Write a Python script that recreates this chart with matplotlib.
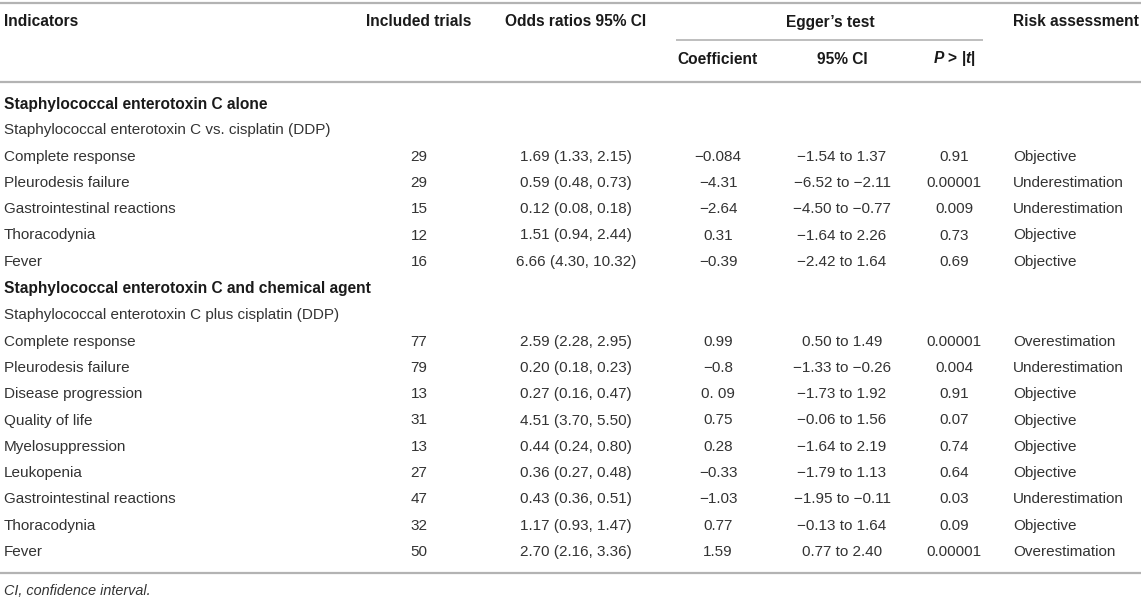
import matplotlib
matplotlib.use("Agg")
import matplotlib.pyplot as plt

plt.rcParams['font.family'] = ['Liberation Sans', 'DejaVu Sans']
plt.rcParams['mathtext.fontset'] = 'custom'
plt.rcParams['mathtext.it'] = 'Liberation Sans:italic:bold'
plt.rcParams['mathtext.rm'] = 'Liberation Sans:bold'

# ---- data ----
section1 = "Staphylococcal enterotoxin C alone"
sub1 = "Staphylococcal enterotoxin C vs. cisplatin (DDP)"
ind1 = ["Complete response", "Pleurodesis failure", "Gastrointestinal reactions",
        "Thoracodynia", "Fever"]
trials1 = ["29", "29", "15", "12", "16"]
or1 = ["1.69 (1.33, 2.15)", "0.59 (0.48, 0.73)", "0.12 (0.08, 0.18)",
       "1.51 (0.94, 2.44)", "6.66 (4.30, 10.32)"]
coef1 = ["\u22120.084", "\u22124.31", "\u22122.64", "0.31", "\u22120.39"]
ci1 = ["\u22121.54 to 1.37", "\u22126.52 to \u22122.11", "\u22124.50 to \u22120.77",
       "\u22121.64 to 2.26", "\u22122.42 to 1.64"]
p1 = ["0.91", "0.00001", "0.009", "0.73", "0.69"]
risk1 = ["Objective", "Underestimation", "Underestimation", "Objective", "Objective"]

section2 = "Staphylococcal enterotoxin C and chemical agent"
sub2 = "Staphylococcal enterotoxin C plus cisplatin (DDP)"
ind2 = ["Complete response", "Pleurodesis failure", "Disease progression",
        "Quality of life", "Myelosuppression", "Leukopenia",
        "Gastrointestinal reactions", "Thoracodynia", "Fever"]
trials2 = ["77", "79", "13", "31", "13", "27", "47", "32", "50"]
or2 = ["2.59 (2.28, 2.95)", "0.20 (0.18, 0.23)", "0.27 (0.16, 0.47)",
       "4.51 (3.70, 5.50)", "0.44 (0.24, 0.80)", "0.36 (0.27, 0.48)",
       "0.43 (0.36, 0.51)", "1.17 (0.93, 1.47)", "2.70 (2.16, 3.36)"]
coef2 = ["0.99", "\u22120.8", "0. 09", "0.75", "0.28", "\u22120.33", "\u22121.03",
         "0.77", "1.59"]
ci2 = ["0.50 to 1.49", "\u22121.33 to \u22120.26", "\u22121.73 to 1.92",
       "\u22120.06 to 1.56", "\u22121.64 to 2.19", "\u22121.79 to 1.13",
       "\u22121.95 to \u22120.11", "\u22120.13 to 1.64", "0.77 to 2.40"]
p2 = ["0.00001", "0.004", "0.91", "0.07", "0.74", "0.64", "0.03", "0.09", "0.00001"]
risk2 = ["Overestimation", "Underestimation", "Objective", "Objective", "Objective",
         "Objective", "Underestimation", "Objective", "Overestimation"]

footnote = "CI, confidence interval."

# ---- layout ----
W, H = 1143, 600
fig = plt.figure(figsize=(W / 100, H / 100), dpi=100)
ax = fig.add_axes([0, 0, 1, 1])
ax.set_xlim(0, W)
ax.set_ylim(H, 0)
ax.axis('off')

FS = 11.0
FSB = 11.2
body = '#333333'
head = '#1a1a1a'
linec = '#b3b3b3'

x_ind = 4
x_tr = 419
x_or = 576
x_coef = 718
x_ci = 842
x_p = 954
x_risk = 1013
x_egg = 830

def line(y, x0=0, x1=1141, lw=1.6):
    ax.plot([x0, x1], [y, y], color=linec, lw=lw, solid_capstyle='butt')

line(3)
line(82)
line(40, 676, 983, lw=1.2)
line(573)

# header
hkw = dict(fontsize=FSB, fontweight='bold', color=head, va='center')
ax.text(x_ind, 22, "Indicators", ha='left', **hkw)
ax.text(x_tr, 22, "Included trials", ha='center', **hkw)
ax.text(x_or, 22, "Odds ratios 95% CI", ha='center', **hkw)
ax.text(x_egg, 22, "Egger\u2019s test", ha='center', **hkw)
ax.text(x_risk, 22, "Risk assessment", ha='left', **hkw)
ax.text(x_coef, 59, "Coefficient", ha='center', **hkw)
ax.text(x_ci, 59, "95% CI", ha='center', **hkw)
ax.text(x_p, 59, r"$P$ > |$t$|", ha='center', **hkw)

bkw = dict(fontsize=FS, color=body, va='center')
step = 26.3

def block(y0, section, sub, ind, tr, orr, coef, ci, p, risk):
    ax.text(x_ind, y0, section, ha='left', fontsize=FSB, fontweight='bold',
            color=head, va='center')
    ax.text(x_ind, y0 + step, sub, ha='left', **bkw)
    for i in range(len(ind)):
        y = y0 + step * (i + 2)
        ax.text(x_ind, y, ind[i], ha='left', **bkw)
        ax.text(x_tr, y, tr[i], ha='center', **bkw)
        ax.text(x_or, y, orr[i], ha='center', **bkw)
        ax.text(x_coef, y, coef[i], ha='center', **bkw)
        ax.text(x_ci, y, ci[i], ha='center', **bkw)
        ax.text(x_p, y, p[i], ha='center', **bkw)
        ax.text(x_risk, y, risk[i], ha='left', **bkw)

block(104, section1, sub1, ind1, trials1, or1, coef1, ci1, p1, risk1)
block(289, section2, sub2, ind2, trials2, or2, coef2, ci2, p2, risk2)

ax.text(x_ind, 591, footnote, ha='left', va='center', fontsize=FS - 0.6,
        style='italic', color=body)

fig.savefig("out.png", dpi=100)
